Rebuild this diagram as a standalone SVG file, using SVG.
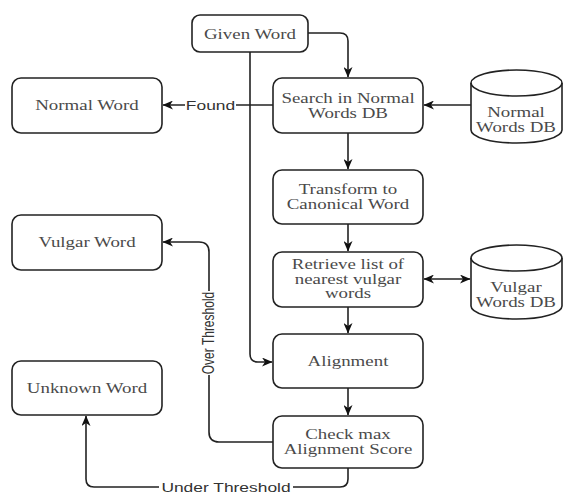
<svg xmlns="http://www.w3.org/2000/svg" width="563" height="494" viewBox="0 0 563 494">
<style>
.box{fill:#fff;stroke:#222;stroke-width:1.6}
.t{font-family:"Liberation Serif","Times New Roman",serif;font-size:14px;fill:#4a4a4a;text-anchor:middle}
.lbl{font-family:"Liberation Sans",Arial,sans-serif;font-size:12px;fill:#333;text-anchor:middle}
.c{fill:none;stroke:#222;stroke-width:1.6}
.bg{fill:#fff}
</style>
<defs>
<marker id="ah" markerWidth="11" markerHeight="9" refX="10" refY="4.5" orient="auto-start-reverse" markerUnits="userSpaceOnUse">
<path d="M0,0 L10.5,4.5 L0,9 L3,4.5 z" fill="#111"/>
</marker>
</defs>
<rect width="563" height="494" fill="#fff"/>
<g id="connectors">
<path class="c" d="M307,33 H340 Q348,33 348,41 V77" marker-end="url(#ah)"/>
<path class="c" d="M250,52 V354 Q250,362 258,362 H272" marker-end="url(#ah)"/>
<path class="c" d="M273,105 H163" marker-end="url(#ah)"/>
<path class="c" d="M471,105 H424" marker-end="url(#ah)"/>
<path class="c" d="M348,133 V169" marker-end="url(#ah)"/>
<path class="c" d="M348,224 V251" marker-end="url(#ah)"/>
<path class="c" d="M424,279 H470" marker-start="url(#ah)" marker-end="url(#ah)"/>
<path class="c" d="M348,307 V333" marker-end="url(#ah)"/>
<path class="c" d="M348,388 V415" marker-end="url(#ah)"/>
<path class="c" d="M273,442 H219 Q209,442 209,432 V252 Q209,242 199,242 H163" marker-end="url(#ah)"/>
<path class="c" d="M348,468 V479 Q348,487 340,487 H94 Q86,487 86,479 V416" marker-end="url(#ah)"/>
<rect class="bg" x="185" y="98" width="51" height="14"/>
<text class="lbl" transform="translate(210.5,109.5) scale(1.45,1)" x="0" y="0">Found</text>
<rect class="bg" x="202" y="291" width="14" height="84"/>
<text class="lbl" transform="translate(213.5,333) scale(1.45,1) rotate(-90)" x="0" y="0">Over Threshold</text>
<rect class="bg" x="159" y="480" width="134" height="14"/>
<text class="lbl" transform="translate(226,491.5) scale(1.45,1)" x="0" y="0">Under Threshold</text>
</g>
<g id="given-word">
<rect class="box" x="192" y="15" width="116" height="37" rx="8"/>
<text class="t" transform="translate(250,38.5) scale(1.35,1)" x="0" y="0">Given Word</text>
</g>
<g id="normal-word">
<rect class="box" x="12" y="78" width="150" height="55" rx="9"/>
<text class="t" transform="translate(87,110) scale(1.35,1)" x="0" y="0">Normal Word</text>
</g>
<g id="search">
<rect class="box" x="273" y="78" width="150" height="55" rx="9"/>
<text class="t" transform="translate(348,0) scale(1.35,1)"><tspan x="0" y="103.5">Search in Normal</tspan><tspan x="0" y="118.5">Words DB</tspan></text>
</g>
<g id="normal-db">
<path class="box" d="M471,83 A45.5,13 0 0 1 562,83 V130 A45.5,13 0 0 1 471,130 Z"/>
<path class="c" d="M471,83 A45.5,13 0 0 0 562,83"/>
<text class="t" transform="translate(516,0) scale(1.35,1)"><tspan x="0" y="117">Normal</tspan><tspan x="0" y="132">Words DB</tspan></text>
</g>
<g id="transform">
<rect class="box" x="273" y="170" width="150" height="54" rx="9"/>
<text class="t" transform="translate(348,0) scale(1.35,1)"><tspan x="0" y="194.5">Transform to</tspan><tspan x="0" y="209.5">Canonical Word</tspan></text>
</g>
<g id="vulgar-word">
<rect class="box" x="12" y="215" width="150" height="55" rx="9"/>
<text class="t" transform="translate(87,247) scale(1.35,1)" x="0" y="0">Vulgar Word</text>
</g>
<g id="retrieve">
<rect class="box" x="273" y="252" width="150" height="55" rx="9"/>
<text class="t" transform="translate(348,0) scale(1.35,1)"><tspan x="0" y="269.5">Retrieve list of</tspan><tspan x="0" y="284">nearest vulgar</tspan><tspan x="0" y="298.5">words</tspan></text>
</g>
<g id="vulgar-db">
<path class="box" d="M471,258 A45.5,13 0 0 1 562,258 V306 A45.5,13 0 0 1 471,306 Z"/>
<path class="c" d="M471,258 A45.5,13 0 0 0 562,258"/>
<text class="t" transform="translate(516,0) scale(1.35,1)"><tspan x="0" y="292">Vulgar</tspan><tspan x="0" y="307">Words DB</tspan></text>
</g>
<g id="alignment">
<rect class="box" x="273" y="334" width="150" height="54" rx="9"/>
<text class="t" transform="translate(348,365.5) scale(1.35,1)" x="0" y="0">Alignment</text>
</g>
<g id="unknown-word">
<rect class="box" x="12" y="361" width="150" height="54" rx="9"/>
<text class="t" transform="translate(87,392.5) scale(1.35,1)" x="0" y="0">Unknown Word</text>
</g>
<g id="check">
<rect class="box" x="273" y="416" width="150" height="52" rx="9"/>
<text class="t" transform="translate(348,0) scale(1.35,1)"><tspan x="0" y="439.5">Check max</tspan><tspan x="0" y="454.5">Alignment Score</tspan></text>
</g>
</svg>
